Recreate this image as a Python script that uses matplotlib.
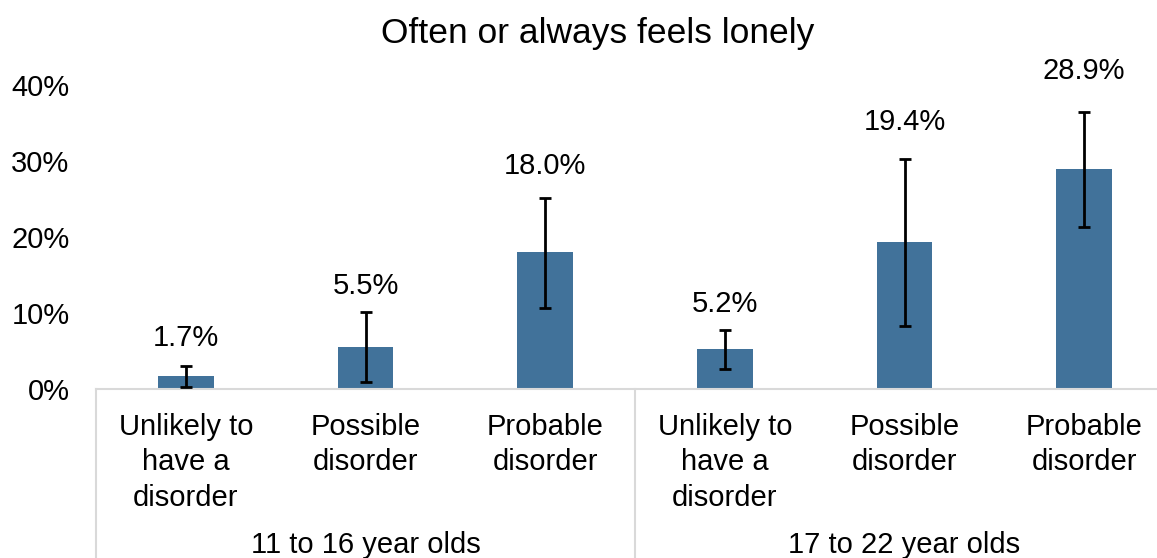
import matplotlib
matplotlib.use("Agg")
import matplotlib.pyplot as plt
from matplotlib.ticker import FuncFormatter

plt.rcParams['font.family'] = ['Liberation Sans', 'DejaVu Sans']

# data (percent)
categories = ["Unlikely to\nhave a\ndisorder", "Possible\ndisorder", "Probable\ndisorder",
              "Unlikely to\nhave a\ndisorder", "Possible\ndisorder", "Probable\ndisorder"]
groups = ["11 to 16 year olds", "17 to 22 year olds"]
values = [1.7, 5.5, 18.0, 5.2, 19.4, 28.9]
ci_low = [0.2, 0.9, 10.6, 2.6, 8.3, 21.3]
ci_high = [3.0, 10.1, 25.1, 7.7, 30.3, 36.5]

# gap (pixels) between top of error bar and the value label
label_gap = [28, 26, 32, 26, 37, 41]

bar_color = "#41729A"
grid_grey = "#D9D9D9"

fig = plt.figure(figsize=(11.57, 5.58), dpi=100)
W, H = 1157, 558
# axis line at y=389px, 40% at y=85px, groups span x 96..1174 (clipped at right)
ax = fig.add_axes([96 / W, (H - 389) / H, (1174 - 96) / W, (389 - 85) / H])

x = list(range(len(values)))
yerr = [[v - lo for v, lo in zip(values, ci_low)],
        [hi - v for v, hi in zip(values, ci_high)]]
ax.bar(x, values, width=0.31, color=bar_color, zorder=2)
ax.errorbar(x, values, yerr=yerr, fmt='none', ecolor='black',
            elinewidth=2, capsize=4.6, capthick=2, zorder=3)

for i, v in enumerate(values):
    ax.annotate(f"{v:.1f}%", xy=(i, ci_high[i]), xytext=(0, label_gap[i] * 0.72),
                textcoords='offset points', ha='center', va='center', fontsize=21)

ax.set_xlim(-0.5, len(values) - 0.5)
ax.set_ylim(0, 40)
ax.set_yticks([0, 10, 20, 30, 40])
ax.yaxis.set_major_formatter(FuncFormatter(lambda v, p: f"{v:.0f}%"))
ax.set_xticks(x)
ax.set_xticklabels(categories, fontsize=21, linespacing=1.35)
ax.tick_params(axis='x', length=0, pad=17)
ax.tick_params(axis='y', length=0, pad=19, labelsize=21)

for s in ['top', 'right', 'left']:
    ax.spines[s].set_visible(False)
ax.spines['bottom'].set_color(grid_grey)
ax.spines['bottom'].set_linewidth(1.5)

# group separators below the axis
trans = ax.get_xaxis_transform()
for xs in [-0.5, 2.5, 5.5]:
    ax.plot([xs, xs], [0, -0.6], color=grid_grey, lw=1.5, transform=trans, clip_on=False)

for gi, g in enumerate(groups):
    ax.annotate(g, xy=(gi * 3 + 1, 0), xycoords=trans, xytext=(0, -164 * 0.72),
                textcoords='offset points', ha='center', va='baseline', fontsize=21)

fig.text(598 / W, 1 - 33 / H, "Often or always feels lonely", ha='center', va='center', fontsize=25.5)

fig.savefig("out.png", dpi=100)
